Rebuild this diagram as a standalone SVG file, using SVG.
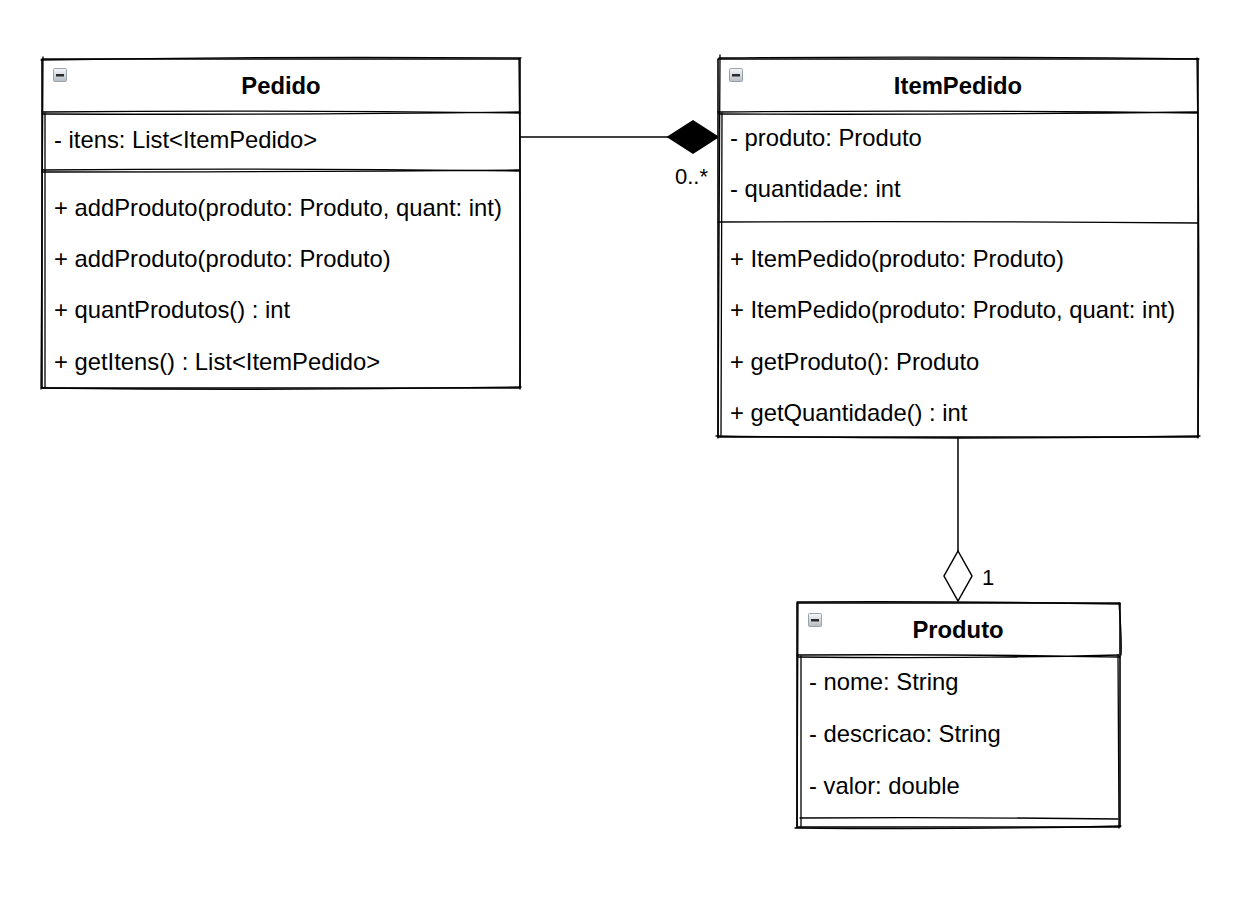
<svg xmlns="http://www.w3.org/2000/svg" width="1250" height="914" viewBox="0 0 1250 914">
<style>
.box{fill:#fff;stroke:#000;stroke-width:1.6;stroke-linejoin:round}
.sk{fill:none;stroke:#000;stroke-width:1.3;stroke-linecap:round}
.t{font-family:"Liberation Sans",Arial,sans-serif;font-size:23.8px;fill:#000}
.h{font-family:"Liberation Sans",Arial,sans-serif;font-size:23.8px;font-weight:bold;fill:#000;text-anchor:middle}
.lbl{font-family:"Liberation Sans",Arial,sans-serif;font-size:22px;fill:#000}
.ln{fill:none;stroke:#000;stroke-width:1.5}
</style>
<defs>
<linearGradient id="ig" x1="0" y1="0" x2="0" y2="1">
<stop offset="0" stop-color="#f6f8fa"/><stop offset="1" stop-color="#b4bcc4"/>
</linearGradient>
<g id="icon">
<rect x="0.5" y="0.5" width="13" height="13" rx="1" fill="url(#ig)" stroke="#9aa2aa" stroke-width="1"/>
<rect x="3" y="6" width="8" height="2.5" fill="#2a2a2a"/>
</g>
</defs>

<g id="connectors">
<path class="ln" d="M520,137 H668"/>
<path d="M668,137 L693,121 L718,137 L693,153 Z" fill="#000" stroke="#000" stroke-width="1.5"/>
<text class="lbl" x="675" y="184">0..*</text>
<path class="ln" d="M958,437 V551"/>
<path d="M958,551 L972,576 L958,601 L944,576 Z" fill="#fff" stroke="#000" stroke-width="1.5"/>
<text class="lbl" x="982" y="585">1</text>
</g>

<g id="Pedido">
<rect class="box" x="42" y="59" width="478" height="329"/>
<path class="sk" d="M41,60 Q280,56 521,58 M43,57 L41,389 M519,58 Q521,220 520,389 M42,388 Q280,391 521,387"/>
<path class="sk" d="M42,112 Q280,110 520,113 M42,114 Q300,115 519,112"/>
<path class="sk" d="M42,170 Q280,168 520,171 M43,172 Q300,172 519,170"/>
<path class="sk" d="M45,113 L45,388"/>
<use href="#icon" x="53" y="68"/>
<text class="h" x="281" y="94">Pedido</text>
<text class="t" x="54" y="148">- itens: List&lt;ItemPedido&gt;</text>
<text class="t" x="54" y="216">+ addProduto(produto: Produto, quant: int)</text>
<text class="t" x="54" y="267">+ addProduto(produto: Produto)</text>
<text class="t" x="54" y="318">+ quantProdutos() : int</text>
<text class="t" x="54" y="370">+ getItens() : List&lt;ItemPedido&gt;</text>
</g>

<g id="ItemPedido">
<rect class="box" x="718" y="59" width="480" height="378"/>
<path class="sk" d="M719,58 Q960,56 1199,59 M720,55 L718,438 M1197,58 Q1200,250 1198,438 M716,436 Q960,440 1200,436"/>
<path class="sk" d="M718,112 Q960,110 1198,113 M719,114 Q960,115 1197,112"/>
<path class="sk" d="M718,222 Q960,221 1198,223"/>
<path class="sk" d="M722,113 L721,436"/>
<use href="#icon" x="729" y="68"/>
<text class="h" x="958" y="94">ItemPedido</text>
<text class="t" x="730" y="146">- produto: Produto</text>
<text class="t" x="730" y="197">- quantidade: int</text>
<text class="t" x="730" y="267">+ ItemPedido(produto: Produto)</text>
<text class="t" x="730" y="318">+ ItemPedido(produto: Produto, quant: int)</text>
<text class="t" x="730" y="370">+ getProduto(): Produto</text>
<text class="t" x="730" y="421">+ getQuantidade() : int</text>
</g>

<g id="Produto">
<rect class="box" x="797" y="603" width="323" height="224"/>
<path class="sk" d="M797,602 Q960,601 1120,604 M798,603 L797,828 M1119,603 Q1122,640 1121,655 M1118,655 L1119,828 M795,828 Q960,830 1121,826"/>
<path class="sk" d="M797,655 Q960,654 1120,657 M798,657 Q960,659 1119,655"/>
<path class="sk" d="M800,818 Q960,817 1118,819"/>
<path class="sk" d="M801,656 L801,827"/>
<use href="#icon" x="808" y="613"/>
<text class="h" x="958" y="638">Produto</text>
<text class="t" x="809" y="690">- nome: String</text>
<text class="t" x="809" y="742">- descricao: String</text>
<text class="t" x="809" y="794">- valor: double</text>
</g>
</svg>
